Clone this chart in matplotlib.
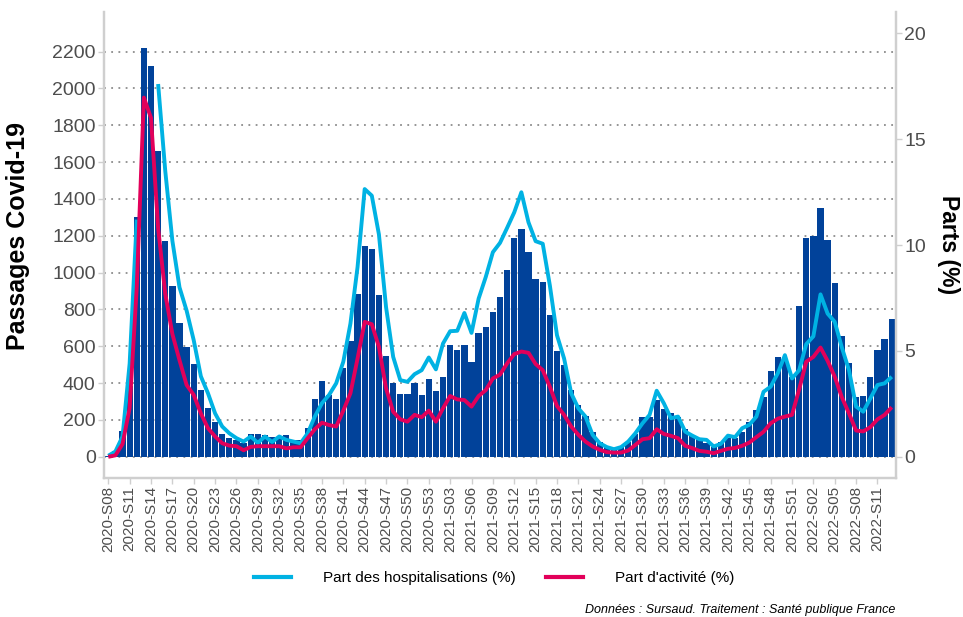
import numpy as np
import matplotlib
matplotlib.use("Agg")
import matplotlib.pyplot as plt
from matplotlib.lines import Line2D

plt.rcParams['font.family'] = ['Liberation Sans', 'DejaVu Sans']

# ---- data ----
years = [2020, 2021, 2022]
first_week = [8, 1, 1]
last_week = [53, 52, 13]
weeks = []
for y, a, b in zip(years, first_week, last_week):
    for w in range(a, b + 1):
        weeks.append(f"{y}-S{w:02d}")

passages = [5, 30, 142, 386, 1300, 2220, 2124, 1658, 1170, 928,
            724, 598, 502, 363, 264, 188, 123, 101, 93, 74,
            123, 123, 116, 110, 101, 116, 93, 92, 155, 312,
            412, 334, 316, 482, 629, 885, 1142, 1127, 881, 549,
            403, 340, 340, 403, 337, 425, 359, 432, 607, 578,
            607, 517, 672, 706, 786, 867, 1015, 1190, 1239, 1114,
            966, 950, 768, 574, 497, 363, 280, 224, 137, 83,
            56, 42, 60, 78, 123, 215, 215, 309, 258, 240,
            215, 150, 120, 96, 74, 56, 80, 101, 101, 137,
            188, 255, 323, 464, 540, 525, 435, 818, 1187, 1197,
            1353, 1176, 946, 658, 511, 323, 330, 435, 578, 639,
            748]

part_hosp = [0.05, 0.25, 0.96, 4.4, 11.2, np.nan, np.nan, 17.6, 13.5, 10.2,
             8.0, 6.9, 5.5, 3.8, 3.0, 2.05, 1.43, 1.11, 0.88, 0.72,
             0.96, 0.66, 0.96, 0.7, 0.96, 0.8, 0.72, 0.64, 1.11, 1.9,
             2.53, 2.92, 3.47, 4.49, 6.29, 8.96, 12.64, 12.33, 10.5, 7.07,
             4.72, 3.62, 3.54, 3.9, 4.09, 4.69, 4.13, 5.35, 5.93, 5.95,
             6.79, 5.85, 7.47, 8.49, 9.66, 10.1, 10.81, 11.54, 12.49, 11.07,
             10.18, 10.06, 8.09, 5.74, 4.64, 3.0, 2.29, 1.9, 1.04, 0.64,
             0.46, 0.36, 0.46, 0.72, 1.11, 1.58, 1.98, 3.12, 2.53, 1.82,
             1.9, 1.19, 1.0, 0.83, 0.8, 0.49, 0.61, 1.0, 0.93, 1.35,
             1.51, 1.9, 3.07, 3.31, 3.94, 4.8, 3.7, 4.09, 5.32, 5.69,
             7.67, 6.76, 6.37, 5.16, 4.09, 2.37, 2.13, 2.76, 3.39, 3.47,
             3.78]

part_act = [0.0, 0.07, 0.6, 2.3, 8.0, 16.96, 16.0, 10.8, 7.7, 5.8,
            4.56, 3.39, 2.92, 2.05, 1.35, 0.96, 0.64, 0.53, 0.5, 0.31,
            0.47, 0.5, 0.5, 0.5, 0.5, 0.4, 0.45, 0.45, 0.88, 1.3,
            1.61, 1.5, 1.43, 2.18, 3.0, 4.64, 6.37, 6.26, 5.19, 3.23,
            2.13, 1.77, 1.66, 1.98, 1.87, 2.18, 1.66, 2.29, 2.87, 2.71,
            2.68, 2.37, 2.87, 3.15, 3.7, 3.88, 4.41, 4.85, 4.97, 4.91,
            4.38, 4.09, 3.31, 2.4, 1.98, 1.43, 1.04, 0.72, 0.49, 0.33,
            0.22, 0.2, 0.2, 0.3, 0.56, 0.83, 0.88, 1.3, 1.08, 0.99,
            0.88, 0.52, 0.41, 0.28, 0.24, 0.17, 0.28, 0.38, 0.42, 0.52,
            0.67, 0.93, 1.18, 1.58, 1.8, 1.9, 1.98, 3.18, 4.49, 4.72,
            5.16, 4.53, 3.78, 2.81, 2.05, 1.24, 1.2, 1.4, 1.77, 1.98,
            2.34]

left_ticks = list(range(0, 2201, 200))
right_ticks = [0, 5, 10, 15, 20]

# ---- style ----
bar_color = '#01429A'
hosp_color = '#00B2E3'
act_color = '#E2005A'
axis_gray = '#CFCFCF'
text_gray = '#4D4D4D'

fig = plt.figure(figsize=(9.63, 6.17), dpi=100)
ax = fig.add_axes([104/963, 1-478/617, (896-104)/963, (478-12)/617])

x = np.arange(len(weeks))
ax.bar(x, passages, width=0.88, color=bar_color, zorder=2, linewidth=0)

ax.set_xlim(-0.6, len(weeks) - 0.4)
ax.set_ylim(-115, 2415)
ax.set_yticks(left_ticks)
ax.set_yticklabels([str(t) for t in left_ticks])
ax.yaxis.grid(True, linestyle=(0, (1, 3)), color='#8C8C8C', linewidth=1.3, zorder=0)
ax.set_axisbelow(True)

ax.set_xticks(x[::3])
ax.set_xticklabels(weeks[::3], rotation=90, fontsize=11, color=text_gray)
ax.tick_params(axis='x', length=4, width=1, color=axis_gray, pad=2)
ax.tick_params(axis='y', length=4, width=1, color=axis_gray, labelsize=14,
               labelcolor=text_gray, pad=2)

ax.spines['top'].set_visible(False)
for s in ['left', 'right', 'bottom']:
    ax.spines[s].set_color(axis_gray)
    ax.spines[s].set_linewidth(1.6)

ax.set_ylabel('Passages Covid-19', fontsize=18, fontweight='bold', color='black',
              va='center')
ax.yaxis.set_label_coords(-0.1086, 0.52)

ax2 = ax.twinx()
ax2.set_ylim(-115/115, 2415/115)
ax2.plot(x, part_hosp, color=hosp_color, linewidth=2.8, solid_capstyle='butt', zorder=3)
ax2.plot(x, part_act, color=act_color, linewidth=2.8, solid_capstyle='butt', zorder=4)
ax2.set_yticks(right_ticks)
ax2.set_yticklabels([str(t) for t in right_ticks])
ax2.tick_params(axis='y', length=4, width=1, color=axis_gray, labelsize=14,
                labelcolor=text_gray, pad=2)
ax2.spines['top'].set_visible(False)
for s in ['left', 'right', 'bottom']:
    ax2.spines[s].set_color(axis_gray)
    ax2.spines[s].set_linewidth(1.6)
ax2.set_ylabel('Parts (%)', fontsize=16.5, fontweight='bold', color='black',
               rotation=-90, va='center')
ax2.yaxis.set_label_coords(1.0657, 0.5)

handles = [Line2D([0], [0], color=hosp_color, lw=3),
           Line2D([0], [0], color=act_color, lw=3)]
fig.legend(handles, ['Part des hospitalisations (%)', "Part d'activité (%)"],
           loc='center', bbox_to_anchor=(494/963, 1-578/617), ncol=2,
           frameon=False, fontsize=11, handlelength=2.4, handletextpad=2.1,
           columnspacing=2.0)

fig.text(895/963, 1-610/617, 'Données : Sursaud. Traitement : Santé publique France',
         ha='right', va='center', fontsize=9, style='italic', color='black')

fig.savefig('out.png', dpi=100)
